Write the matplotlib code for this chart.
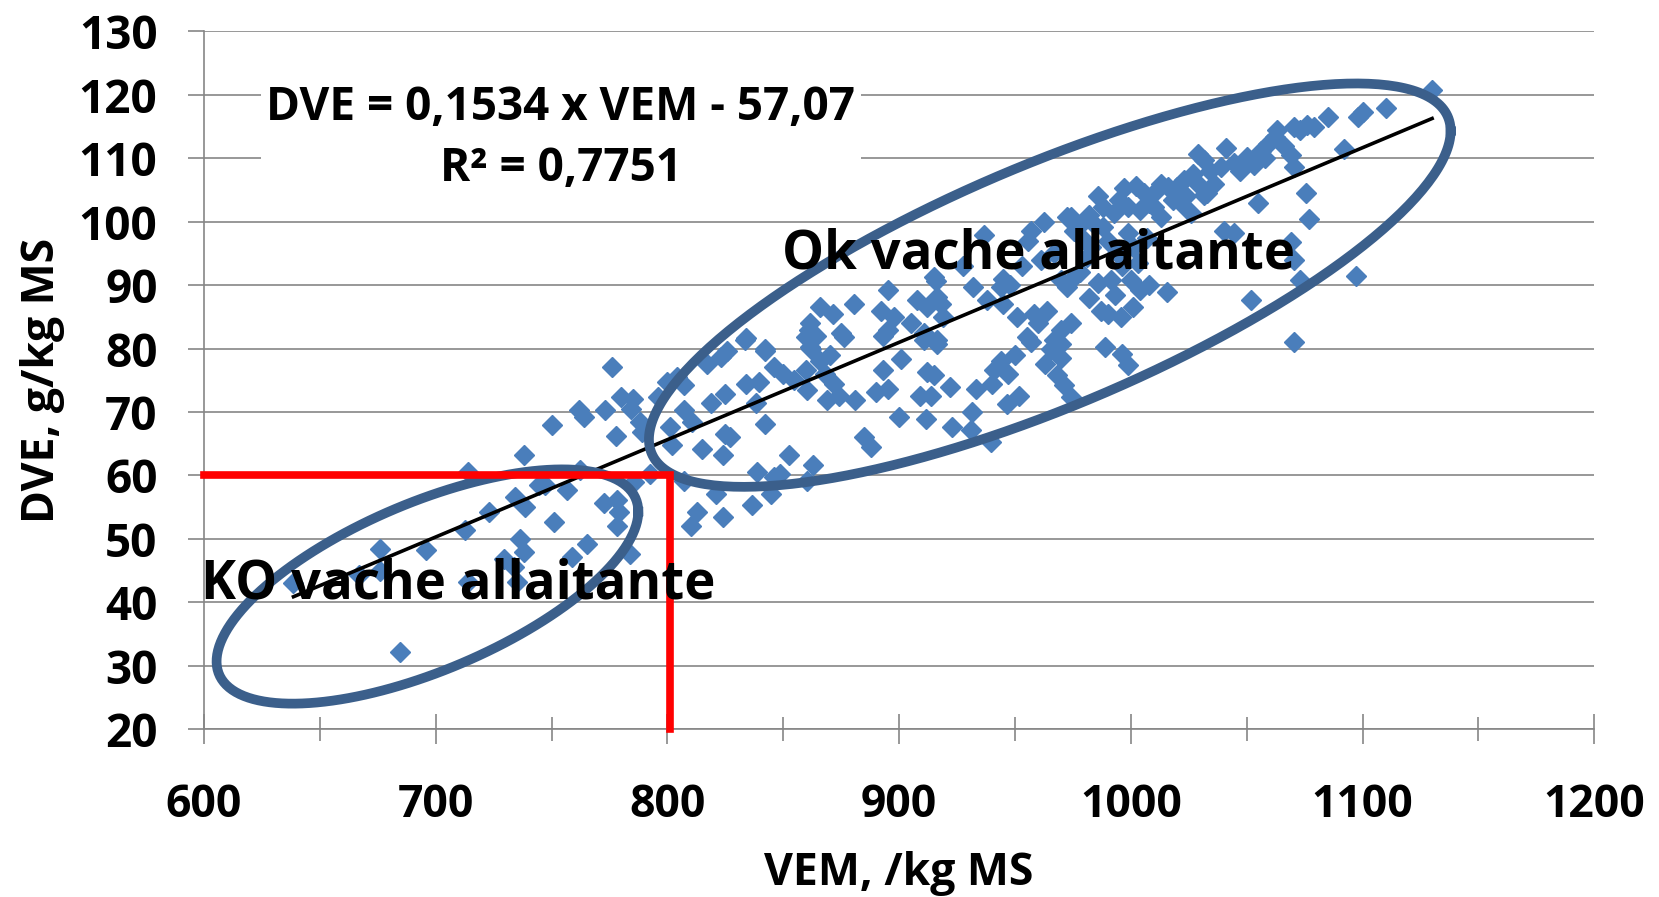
import matplotlib
matplotlib.use('Agg')
import matplotlib.pyplot as plt
import numpy as np

plt.rcParams['font.family'] = ['Open Sans', 'DejaVu Sans']
plt.rcParams['font.weight'] = 'bold'
plt.rcParams['axes.labelweight'] = 'bold'

# VEM (/kg MS) and DVE (g/kg MS)
vem = [684.7, 638.6, 667, 676, 676, 696, 712.7, 714, 722.8, 714, 729.3, 736.5, 738, 733.7, 735,
       734.3, 738.7, 738, 750, 744.4, 751,
       776, 761.7, 764, 773, 778, 780, 785, 784.3, 788, 789, 796, 800, 804, 807, 807, 810.7,
       801, 802, 815, 824, 825, 827, 818.6, 825, 817, 823, 825.8, 833.6, 842, 846, 850, 854.5,
       860, 834, 839.5, 838, 842, 852.4, 838.7, 846, 848.7, 863, 807, 821, 812.7, 810, 824,
       836.6, 844.6, 792.6, 785.4, 778.3, 772.5, 779, 778.3, 765.3, 784, 758.6, 756.7, 762.4, 747.3,
       860.3, 884.8, 887.7, 900, 911.4, 923, 931, 939.5, 931.6, 881, 890, 895, 909, 913.6, 922,
       933, 940, 946.7, 951.6, 947, 941, 912, 915, 893, 900.6, 968.3, 971, 974, 956.8, 965.4,
       969.8, 869, 872, 860.3, 861.7, 876, 893, 910.7, 916.5, 866, 868, 864, 870, 874,
       962.4, 972.6, 975.5, 956.8, 955.4, 936.6, 961, 966.8, 969.8, 972.6, 932, 943.8, 938, 945,
       915, 916.5, 895, 880.4, 866, 871.5, 861.7, 892, 897.6, 907.8, 912, 918, 895, 905, 910.6,
       919, 916.5, 860, 874.7, 958, 955.3, 969.8, 966.8,
       1130, 1110, 1100, 1098, 1092, 1085, 1079, 1076, 1073, 1070.5, 1069, 1070.4, 1075.6, 1077,
       1054.7, 1069, 1070.5, 1073, 1097, 1052, 1070.5, 1063, 1062, 1059, 1056, 1050, 1044.6, 1041,
       1039, 1031.6, 1028.8, 1031.6, 1027, 1023, 1020, 1016, 1013, 1010, 1005.6, 1002, 997, 986,
       988, 992.7, 998.6, 1004, 1010, 1013, 1021.6, 1026, 1033, 974, 978.4, 984, 988, 998.6, 1040,
       1044.6, 975.5, 985.6, 991.4, 1000, 1004, 1015.8, 990, 995.7, 1001, 974, 989, 996, 998.6,
       1034, 1036, 1047, 1053, 1066, 1058, 1018, 1024, 1029, 1008, 995, 982, 979, 983, 990, 994,
       1001, 1007, 996, 1003, 982, 987, 978, 993, 1008, 981,
       944, 950, 963, 970, 960, 964, 951, 948, 953, 927.7, 916, 945, 833.7, 842, 861, 862]
dve = [32.2, 43, 44.3, 48.4, 45, 48.2, 51.4, 60.6, 54.2, 43.2, 46.9, 50, 47.9, 45.5, 43.2,
       56.6, 55, 63.2, 68, 58.5, 52.7,
       77.1, 70.3, 69.2, 70.3, 66.3, 72.4, 72.1, 70.5, 68.4, 66.9, 72.4, 74.8, 75.5, 74.2, 70.3, 68.4,
       67.6, 64.8, 64.2, 63.2, 66.6, 66, 71.5, 72.9, 77.6, 78.7, 79.7, 81.3, 79.7, 77.1, 76, 75,
       76.6, 74.5, 74.8, 71.5, 68.1, 63.2, 60.5, 59.8, 60.3, 61.6, 59.2, 57.1, 54.3, 52.1, 53.5,
       55.3, 57.1, 60.3, 59, 56.1, 55.6, 54.3, 52.1, 49.2, 47.6, 47.1, 57.7, 60.8, 58.5,
       59.2, 66, 64.5, 69.2, 68.9, 67.6, 67.1, 65.3, 70, 71.9, 73.2, 73.7, 72.6, 72.6, 73.9,
       73.7, 74.5, 71.3, 72.6, 76, 76.6, 76.3, 75.8, 76.6, 78.4, 75.8, 74.2, 72.4, 81, 80,
       80.8, 71.9, 74.5, 73.4, 80.2, 81.8, 82, 81.3, 80.8, 78, 76, 82, 79, 72.5,
       99.9, 100.7, 98.6, 98.6, 97, 97.9, 94, 95, 90.8, 89.7, 89.7, 89.7, 87.6, 87.1,
       91.3, 88.1, 89.2, 87.1, 86.5, 85.5, 84, 86, 85, 87.6, 86.5, 87.1, 82.9, 84, 82.4,
       85, 81.3, 81.8, 82.4, 85.5, 81.8, 82.9, 81.3,
       120.8, 118, 117.3, 116.5, 111.4, 116.5, 115, 115.2, 114.4, 115, 110.5, 108.6, 104.5, 100.5,
       102.9, 96.8, 94, 90.8, 91.5, 87.6, 81, 114.4, 113.3, 112.3, 111.2, 110.2, 109.2, 111.6,
       108.6, 109.7, 110.7, 104.2, 107.6, 106.5, 105.5, 105.5, 106, 104.5, 104.5, 105.7, 105.3, 104,
       102.3, 101.3, 102.3, 101.8, 102.3, 100.7, 102.9, 101.3, 104.5, 100.7, 99.7, 99.7, 99.2, 98.2, 98.6,
       98.2, 91.3, 90.3, 90.8, 90.8, 89.2, 88.9, 85.5, 85, 86.5, 84, 80.3, 79.2, 77.4,
       108, 106, 108, 109, 112, 110, 103.5, 104, 106, 103, 103.5, 101, 97.5, 96, 97, 95,
       96, 97.5, 93, 93.5, 88, 86, 92, 88.5, 90, 94.5,
       78, 79, 77.5, 78.5, 84, 86, 85, 90, 93, 93, 90.7, 91, 81.6, 80, 83, 80]

# linear trend as printed on the chart
slope = 0.1534
intercept = -57.07
eq_label = 'DVE = 0,1534 x VEM - 57,07\nR² = 0,7751'

# red threshold (VEM 800, DVE 60)
thr_vem = 801
thr_dve = 60

# ellipse (centre VEM, centre DVE, half width, tilt, height term)
ko_ell = (696.4, 42.5, 91, 11.8, 14.2)
ok_ell = (965, 90, 173, 24.3, 20.5)

fig = plt.figure(figsize=(16.59, 8.97), dpi=100)
ax = fig.add_axes([0.123, 0.187, 0.838, 0.778])

grid_c = '#868686'
ax.set_xlim(600, 1200)
ax.set_ylim(20, 130)
ax.set_xticks(np.arange(600, 1201, 100))
ax.set_xticks(np.arange(650, 1200, 100), minor=True)
ax.set_yticks(np.arange(20, 131, 10))
ax.yaxis.grid(True, color=grid_c, lw=1.2, zorder=0)
ax.set_axisbelow(True)
for s in ['top', 'right']:
    ax.spines[s].set_visible(False)
for s in ['left', 'bottom']:
    ax.spines[s].set_color(grid_c)
    ax.spines[s].set_linewidth(1.2)
ax.tick_params(axis='y', direction='out', length=11.5, width=1.2, color=grid_c, pad=22, labelsize=33)
ax.tick_params(axis='x', which='major', direction='inout', length=21, width=1.2, color=grid_c, pad=28, labelsize=32)
ax.tick_params(axis='x', which='minor', direction='inout', length=17, width=1.2, color=grid_c)

ax.plot(vem, dve, linestyle='none', marker='D', ms=10.5, color='#4a7ebb', mec='#4a7ebb', zorder=3)

xs = np.array([min(vem), max(vem)])
ax.plot(xs, slope * xs + intercept, color='black', lw=2.6, zorder=4)

t = np.linspace(0, 2 * np.pi, 300)
for cx, cy, w, p, q in [ko_ell, ok_ell]:
    ax.plot(cx + w * np.cos(t), cy + p * np.cos(t) + q * np.sin(t), color='#3b5f8b', lw=7,
            zorder=5, clip_on=False)

ax.plot([600, thr_vem, thr_vem], [thr_dve, thr_dve, 20], color='#ff0000', lw=5.5,
        solid_joinstyle='miter', zorder=6, clip_on=False)

ax.text(754, 113.2, eq_label, ha='center', va='center', fontsize=33, linespacing=1.4,
        bbox=dict(facecolor='white', edgecolor='none', pad=4), zorder=7)
ax.text(960, 94.8, 'Ok vache allaitante', ha='center', va='center', fontsize=38, zorder=7)
ax.text(709.7, 42.8, 'KO vache allaitante', ha='center', va='center', fontsize=38, zorder=7, clip_on=False)

ax.set_xlabel('VEM, /kg MS', fontsize=32, labelpad=17)
ax.set_ylabel('DVE, g/kg MS', fontsize=32, labelpad=10)

fig.savefig('out.png', dpi=100)
